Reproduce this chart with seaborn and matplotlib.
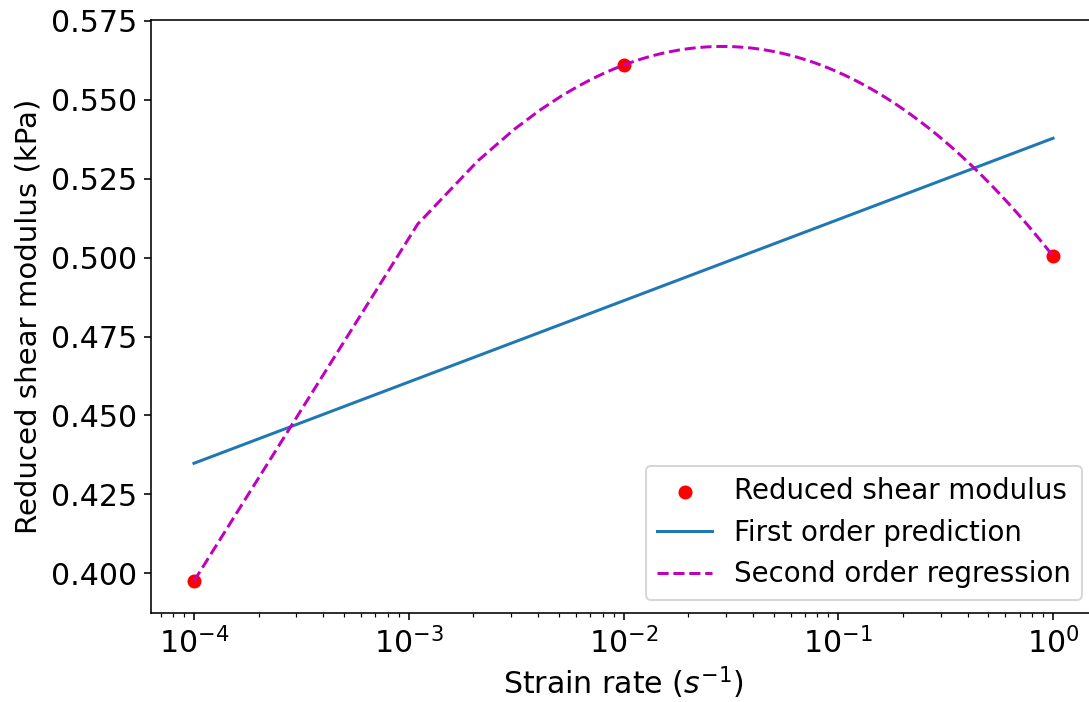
import numpy as np
import pandas as pd
import matplotlib
matplotlib.use("Agg")
import matplotlib.pyplot as plt
import seaborn as sns

# Measured reduced shear modulus at three strain rates
strain_rate = [1e-4, 1e-2, 1.0]
shear_modulus = [0.3975, 0.561, 0.5005]

plt.rcParams.update({
    "font.family": ["DejaVu Sans"],
    "font.size": 14.5,
    "xtick.labelsize": 15,
    "ytick.labelsize": 15,
    "axes.linewidth": 0.8,
})

# Regressions in log10(strain rate)
log_rate = np.log10(strain_rate)
first_coef = np.polyfit(log_rate, shear_modulus, 1)
second_coef = np.polyfit(log_rate, shear_modulus, 2)

rate_grid = np.linspace(strain_rate[0], strain_rate[-1], 1000)
first_pred = np.polyval(first_coef, np.log10(rate_grid))
second_pred = np.polyval(second_coef, np.log10(rate_grid))

points = pd.DataFrame({"rate": strain_rate, "modulus": shear_modulus})
curves = pd.DataFrame({"rate": rate_grid, "first": first_pred, "second": second_pred})

fig = plt.figure(figsize=(1089 / 144, 702 / 144), dpi=144)
ax = fig.add_axes([151 / 1089, 88.7 / 702, 945 / 1089, 593.3 / 702])

sns.scatterplot(data=points, x="rate", y="modulus", ax=ax, color="red",
                s=36, edgecolor="red", linewidth=1, label="Reduced shear modulus")
sns.lineplot(data=curves, x="rate", y="first", ax=ax, color="#1f77b4",
             linewidth=1.5, estimator=None, sort=False, label="First order prediction")
sns.lineplot(data=curves, x="rate", y="second", ax=ax, color="m",
             linewidth=1.5, linestyle="--", estimator=None, sort=False,
             label="Second order regression")

ax.set_xscale("log")
ax.set_ylim(0.3873, 0.5753)
ax.set_xlabel("Strain rate ($s^{-1}$)", fontsize=15, labelpad=2.5)
ax.set_ylabel("Reduced shear modulus (kPa)", fontsize=14.6)
ax.legend(loc="lower right", fontsize=13.8)

fig.savefig("out.png", dpi=144)
